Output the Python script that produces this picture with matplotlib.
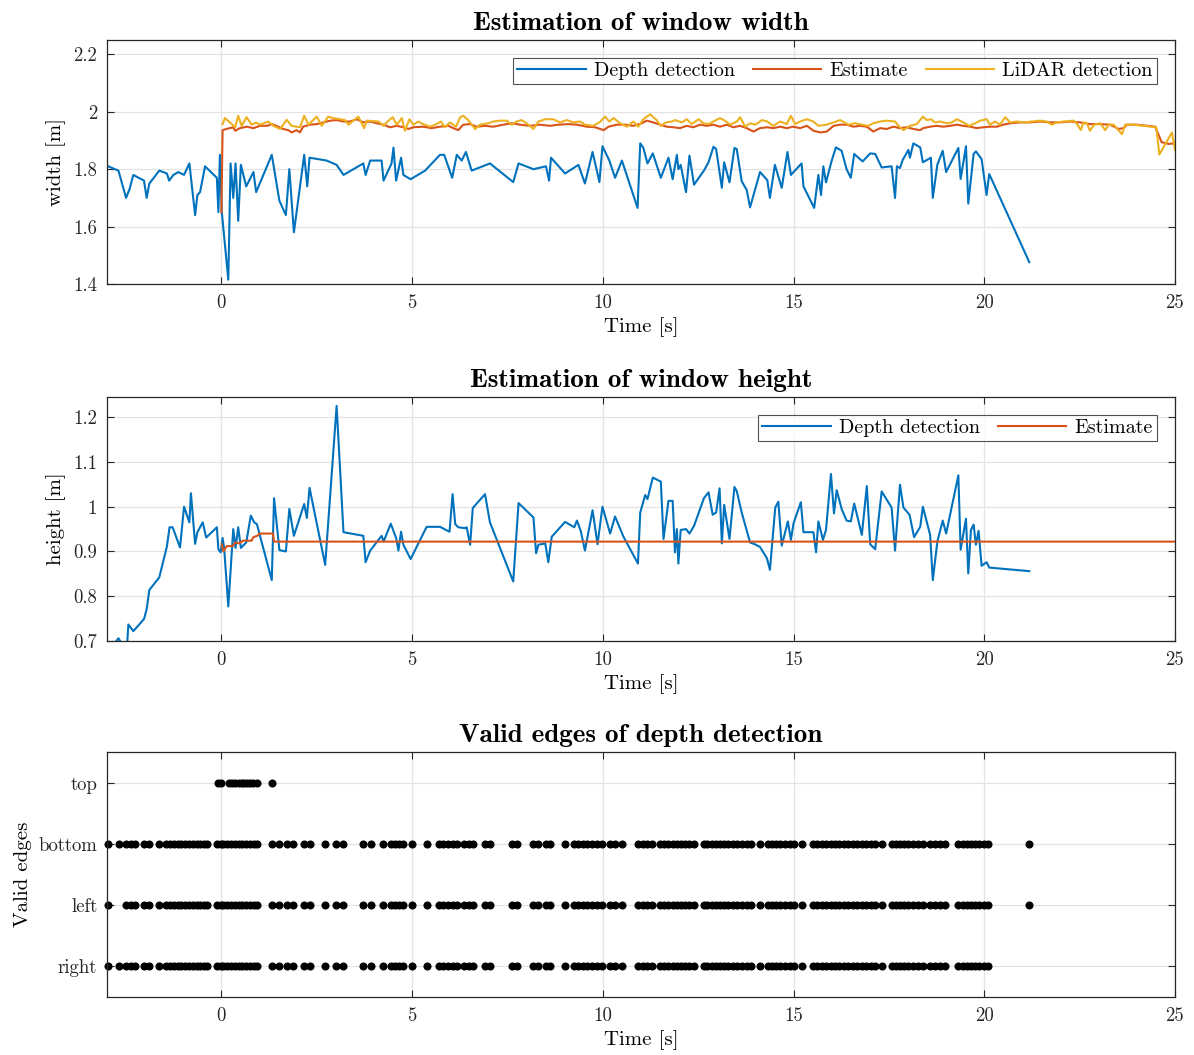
import matplotlib
matplotlib.use("Agg")
import matplotlib.pyplot as plt
import numpy as np

plt.rcParams['font.family'] = 'cmr10'
plt.rcParams['mathtext.fontset'] = 'cm'
plt.rcParams['axes.formatter.use_mathtext'] = True
plt.rcParams['axes.unicode_minus'] = False

BLUE = '#0072BD'
ORANGE = '#D95319'
YELLOW = '#EDB120'

# ---------------- width subplot data ----------------
width_depth_t = [-2.97, -2.70, -2.50, -2.41, -2.31, -2.03, -1.96, -1.89, -1.63, -1.43, -1.37, -1.26,
                 -1.13, -0.98, -0.84, -0.69, -0.63, -0.56, -0.43, -0.12, -0.08, -0.04, 0.01, 0.18,
                 0.24, 0.31, 0.37, 0.44, 0.51, 0.65, 0.84, 0.91, 1.32, 1.52, 1.69, 1.78, 1.90, 2.17,
                 2.25, 2.31, 2.76, 3.02, 3.20, 3.72, 3.78, 3.90, 4.20, 4.25, 4.46, 4.51, 4.58, 4.71,
                 4.77, 4.96, 5.34, 5.73, 5.84, 6.05, 6.17, 6.30, 6.41, 6.56, 7.04, 7.65, 7.79, 8.18,
                 8.51, 8.59, 8.64, 9.01, 9.36, 9.53, 9.73, 9.91, 9.99, 10.17, 10.32, 10.50, 10.91,
                 10.98, 11.06, 11.17, 11.31, 11.52, 11.72, 11.83, 11.94, 11.98, 12.04, 12.18, 12.27,
                 12.39, 12.65, 12.77, 12.90, 12.97, 13.12, 13.18, 13.32, 13.45, 13.51, 13.64, 13.77,
                 13.86, 14.12, 14.31, 14.38, 14.51, 14.69, 14.84, 14.93, 15.21, 15.26, 15.54, 15.65,
                 15.72, 15.78, 15.85, 16.00, 16.11, 16.26, 16.39, 16.50, 16.59, 16.81, 17.01, 17.14,
                 17.31, 17.57, 17.66, 17.71, 17.79, 17.86, 18.01, 18.05, 18.14, 18.32, 18.39, 18.60,
                 18.65, 18.77, 18.91, 19.00, 19.32, 19.38, 19.52, 19.58, 19.72, 19.78, 19.93, 20.06,
                 20.13, 21.18]
width_depth_v = [1.81, 1.795, 1.70, 1.73, 1.78, 1.76, 1.70, 1.75, 1.795, 1.785, 1.76, 1.78,
                 1.79, 1.78, 1.82, 1.64, 1.71, 1.72, 1.81, 1.77, 1.65, 1.85, 1.65, 1.415,
                 1.82, 1.70, 1.82, 1.62, 1.815, 1.74, 1.79, 1.72, 1.85, 1.69, 1.64, 1.80, 1.58, 1.85,
                 1.74, 1.84, 1.83, 1.815, 1.78, 1.82, 1.78, 1.83, 1.83, 1.76, 1.82, 1.875, 1.76, 1.84,
                 1.78, 1.765, 1.795, 1.85, 1.85, 1.77, 1.85, 1.83, 1.86, 1.795, 1.82, 1.755, 1.82, 1.80,
                 1.81, 1.76, 1.84, 1.785, 1.815, 1.75, 1.86, 1.755, 1.88, 1.83, 1.77, 1.83, 1.665,
                 1.89, 1.875, 1.82, 1.855, 1.77, 1.84, 1.765, 1.85, 1.80, 1.815, 1.72, 1.847,
                 1.746, 1.795, 1.824, 1.878, 1.87, 1.735, 1.824, 1.754, 1.874, 1.87, 1.758, 1.728,
                 1.667, 1.79, 1.762, 1.70, 1.815, 1.735, 1.86, 1.78, 1.82, 1.74, 1.665, 1.78,
                 1.71, 1.81, 1.754, 1.83, 1.876, 1.864, 1.80, 1.77, 1.853, 1.827, 1.855, 1.853,
                 1.806, 1.81, 1.70, 1.81, 1.804, 1.832, 1.867, 1.84, 1.89, 1.876, 1.824, 1.84,
                 1.70, 1.816, 1.864, 1.79, 1.874, 1.766, 1.88, 1.68, 1.853, 1.862, 1.835, 1.71,
                 1.783, 1.476]

width_est_t = [0.00, 0.03, 0.13, 0.31, 0.36, 0.49, 0.66, 0.84, 1.01, 1.19, 1.32, 1.49, 1.62, 1.75,
               1.84, 1.97, 2.06, 2.14, 2.32, 2.50, 2.67, 2.85, 3.02, 3.20, 3.37, 3.55, 3.72, 3.90,
               4.07, 4.25, 4.42, 4.60, 4.77, 4.90, 5.03, 5.29, 5.51, 5.73, 5.95, 6.08, 6.21, 6.34,
               6.52, 6.69, 6.91, 7.13, 7.39, 7.61, 7.83, 8.09, 8.35, 8.62, 8.83, 9.10, 9.32, 9.58,
               9.80, 10.02, 10.15, 10.36, 10.58, 10.80, 11.02, 11.15, 11.32, 11.50, 11.67, 11.85,
               12.02, 12.20, 12.37, 12.55, 12.72, 12.90, 13.07, 13.25, 13.42, 13.60, 13.77, 13.95,
               14.12, 14.30, 14.47, 14.65, 14.82, 14.99, 15.17, 15.35, 15.52, 15.70, 15.87, 16.05,
               16.22, 16.39, 16.57, 16.74, 16.92, 17.09, 17.27, 17.44, 17.62, 17.79, 17.97, 18.14,
               18.32, 18.40, 18.58, 18.75, 18.93, 19.10, 19.28, 19.45, 19.63, 19.80, 19.98, 20.15,
               20.33, 20.50, 20.68, 20.94, 21.20, 21.46, 21.73, 21.99, 22.25, 22.51, 22.77, 23.04,
               23.30, 23.52, 23.65, 23.74, 24.00, 24.26, 24.48, 24.65, 24.83, 25.00]
width_est_v = [1.65, 1.936, 1.94, 1.946, 1.934, 1.943, 1.948, 1.943, 1.951, 1.951, 1.957, 1.948,
               1.94, 1.936, 1.928, 1.936, 1.928, 1.948, 1.955, 1.957, 1.963, 1.969, 1.971, 1.966,
               1.966, 1.974, 1.963, 1.966, 1.96, 1.955, 1.946, 1.951, 1.946, 1.94, 1.946, 1.948,
               1.943, 1.948, 1.951, 1.943, 1.936, 1.955, 1.957, 1.948, 1.951, 1.948, 1.955, 1.96,
               1.955, 1.951, 1.955, 1.951, 1.955, 1.957, 1.955, 1.948, 1.946, 1.936, 1.948, 1.955,
               1.955, 1.951, 1.96, 1.969, 1.963, 1.955, 1.948, 1.946, 1.943, 1.951, 1.946, 1.955,
               1.951, 1.955, 1.948, 1.955, 1.946, 1.951, 1.943, 1.931, 1.943, 1.946, 1.943, 1.948,
               1.943, 1.948, 1.943, 1.951, 1.934, 1.928, 1.931, 1.951, 1.955, 1.955, 1.948, 1.951,
               1.948, 1.931, 1.943, 1.94, 1.948, 1.943, 1.946, 1.94, 1.936, 1.943, 1.948, 1.951,
               1.948, 1.951, 1.955, 1.951, 1.948, 1.943, 1.946, 1.948, 1.948, 1.955, 1.96, 1.963,
               1.963, 1.966, 1.963, 1.963, 1.966, 1.963, 1.957, 1.957, 1.955, 1.94, 1.943, 1.955,
               1.955, 1.951, 1.948, 1.894, 1.888, 1.89]

width_lidar_t = [0.03, 0.09, 0.23, 0.36, 0.44, 0.53, 0.66, 0.79, 0.91, 1.01, 1.23, 1.36, 1.54, 1.71,
                 1.84, 2.06, 2.17, 2.28, 2.50, 2.63, 2.80, 2.93, 3.24, 3.33, 3.59, 3.74, 3.81, 4.12,
                 4.25, 4.38, 4.49, 4.60, 4.73, 4.81, 4.93, 5.03, 5.16, 5.29, 5.47, 5.64, 5.75, 5.86,
                 5.99, 6.15, 6.26, 6.34, 6.47, 6.65, 6.78, 7.00, 7.13, 7.30, 7.48, 7.61, 7.74, 7.87,
                 8.00, 8.18, 8.31, 8.49, 8.70, 8.88, 9.05, 9.23, 9.40, 9.53, 9.74, 9.91, 10.06, 10.17,
                 10.28, 10.45, 10.63, 10.80, 10.93, 11.06, 11.24, 11.41, 11.52, 11.66, 11.81, 11.89,
                 12.07, 12.20, 12.33, 12.51, 12.64, 12.77, 12.90, 13.07, 13.20, 13.34, 13.51, 13.60,
                 13.73, 13.86, 14.00, 14.17, 14.31, 14.47, 14.65, 14.82, 14.93, 15.04, 15.17, 15.35,
                 15.52, 15.65, 15.87, 16.05, 16.22, 16.44, 16.61, 16.79, 16.96, 17.09, 17.27, 17.44,
                 17.66, 17.75, 17.88, 18.05, 18.23, 18.39, 18.49, 18.60, 18.71, 18.84, 19.02, 19.15,
                 19.28, 19.45, 19.61, 19.76, 19.89, 20.06, 20.15, 20.28, 20.41, 20.55, 20.68, 20.85,
                 21.07, 21.24, 21.46, 21.64, 21.77, 21.90, 22.08, 22.34, 22.42, 22.53, 22.60, 22.69,
                 22.77, 22.88, 23.04, 23.17, 23.26, 23.39, 23.61, 23.69, 23.91, 24.17, 24.51, 24.59,
                 24.92, 25.00]
width_lidar_v = [1.957, 1.978, 1.962, 1.946, 1.986, 1.951, 1.981, 1.955, 1.962, 1.955, 1.966, 1.951,
                 1.940, 1.972, 1.951, 1.946, 1.986, 1.955, 1.983, 1.951, 1.983, 1.978, 1.971, 1.955,
                 1.983, 1.943, 1.969, 1.966, 1.951, 1.969, 1.981, 1.955, 1.978, 1.934, 1.974, 1.955,
                 1.966, 1.957, 1.948, 1.957, 1.966, 1.946, 1.963, 1.948, 1.981, 1.986, 1.971, 1.94,
                 1.955, 1.96, 1.966, 1.969, 1.969, 1.955, 1.966, 1.971, 1.96, 1.94, 1.966, 1.974,
                 1.974, 1.963, 1.971, 1.963, 1.966, 1.955, 1.951, 1.963, 1.983, 1.966, 1.978, 1.96,
                 1.948, 1.966, 1.948, 1.974, 1.991, 1.971, 1.951, 1.963, 1.966, 1.971, 1.963, 1.974,
                 1.957, 1.974, 1.96, 1.957, 1.966, 1.978, 1.969, 1.955, 1.966, 1.981, 1.948, 1.96,
                 1.955, 1.971, 1.966, 1.951, 1.966, 1.957, 1.986, 1.957, 1.966, 1.974, 1.966, 1.951,
                 1.955, 1.963, 1.971, 1.955, 1.96, 1.955, 1.951, 1.96, 1.966, 1.969, 1.966, 1.951,
                 1.936, 1.951, 1.957, 1.983, 1.971, 1.974, 1.963, 1.966, 1.96, 1.963, 1.974, 1.963,
                 1.951, 1.96, 1.969, 1.974, 1.955, 1.966, 1.955, 1.981, 1.963, 1.966, 1.963, 1.966,
                 1.969, 1.966, 1.955, 1.963, 1.966, 1.969, 1.96, 1.936, 1.963, 1.96, 1.934, 1.955,
                 1.96, 1.936, 1.955, 1.955, 1.922, 1.955, 1.955, 1.951, 1.946, 1.851, 1.928, 1.867]

# ---------------- height subplot data ----------------
height_depth_t = [-2.80, -2.70, -2.62, -2.47, -2.44, -2.31, -2.03, -1.96, -1.89, -1.63, -1.43, -1.36,
                  -1.28, -1.085, -0.98, -0.84, -0.80, -0.69, -0.63, -0.49, -0.40, -0.12, -0.08, -0.02,
                  0.03, 0.07, 0.18, 0.31, 0.37, 0.44, 0.51, 0.65, 0.77, 0.86, 0.93, 1.32, 1.38, 1.52,
                  1.69, 1.78, 1.90, 2.17, 2.24, 2.31, 2.72, 3.02, 3.20, 3.72, 3.78, 3.90, 4.20, 4.25,
                  4.44, 4.58, 4.64, 4.71, 4.77, 4.96, 5.38, 5.73, 5.98, 6.06, 6.13, 6.21, 6.39, 6.43,
                  6.52, 6.59, 6.91, 7.04, 7.65, 7.79, 8.18, 8.25, 8.31, 8.49, 8.57, 8.66, 9.01, 9.25,
                  9.32, 9.42, 9.53, 9.73, 9.86, 9.99, 10.19, 10.32, 10.54, 10.92, 10.98, 11.11, 11.17,
                  11.31, 11.52, 11.59, 11.72, 11.83, 11.89, 11.94, 11.98, 12.04, 12.18, 12.27, 12.39,
                  12.65, 12.77, 12.88, 12.97, 13.06, 13.12, 13.18, 13.32, 13.45, 13.51, 13.64, 13.86,
                  13.99, 14.12, 14.30, 14.38, 14.52, 14.60, 14.69, 14.85, 14.93, 15.00, 15.19, 15.26,
                  15.52, 15.59, 15.65, 15.77, 15.85, 15.98, 16.06, 16.13, 16.26, 16.39, 16.50, 16.59,
                  16.79, 16.92, 17.01, 17.14, 17.31, 17.57, 17.66, 17.79, 17.88, 18.04, 18.16, 18.32,
                  18.39, 18.58, 18.65, 18.77, 18.91, 19.00, 19.32, 19.38, 19.52, 19.58, 19.65, 19.72,
                  19.78, 19.85, 19.93, 20.06, 20.13, 21.18]
height_depth_v = [0.695, 0.706, 0.695, 0.695, 0.737, 0.722, 0.749, 0.771, 0.814, 0.842, 0.911, 0.954,
                  0.954, 0.909, 1.000, 0.965, 1.030, 0.917, 0.943, 0.965, 0.931, 0.954, 0.905, 0.898,
                  0.930, 0.909, 0.777, 0.950, 0.908, 0.954, 0.908, 0.920, 0.980, 0.965, 0.961, 0.836,
                  1.019, 0.903, 0.900, 0.995, 0.935, 1.006, 0.975, 1.042, 0.870, 1.225, 0.943, 0.935,
                  0.876, 0.902, 0.935, 0.922, 0.962, 0.930, 0.902, 0.944, 0.915, 0.883, 0.955, 0.955,
                  0.944, 1.028, 0.961, 0.954, 0.952, 0.954, 0.915, 0.997, 1.028, 0.965, 0.833, 1.008,
                  0.976, 0.896, 0.915, 0.918, 0.876, 0.933, 0.966, 0.954, 0.969, 0.946, 0.902, 0.992,
                  0.916, 1.000, 0.940, 0.978, 0.933, 0.873, 0.987, 1.026, 1.017, 1.065, 1.056, 0.928,
                  1.013, 1.013, 0.898, 0.950, 0.873, 0.948, 0.950, 0.940, 0.957, 1.019, 1.032, 0.982,
                  0.987, 1.041, 0.918, 1.004, 0.928, 1.044, 1.035, 0.987, 0.920, 0.916, 0.910, 0.885,
                  0.859, 0.998, 1.011, 0.913, 0.967, 0.926, 0.963, 1.010, 0.943, 0.943, 0.898, 0.967,
                  0.926, 0.948, 1.073, 0.985, 1.037, 0.995, 0.969, 0.967, 1.007, 0.937, 1.046, 0.916,
                  0.905, 1.034, 0.998, 0.902, 1.049, 0.998, 0.982, 0.932, 0.955, 1.000, 0.937, 0.836,
                  0.922, 0.969, 0.940, 1.070, 0.904, 0.973, 0.851, 0.948, 0.960, 0.915, 0.946, 0.868,
                  0.876, 0.864, 0.856]

height_est_t = [0.01, 0.05, 0.14, 0.30, 0.36, 0.47, 0.56, 0.79, 0.84, 0.94, 1.01, 1.35, 1.38, 25.0]
height_est_v = [0.916, 0.900, 0.912, 0.912, 0.920, 0.918, 0.924, 0.924, 0.932, 0.935, 0.940, 0.940,
                0.922, 0.922]

# ---------------- valid edges data ----------------
edge_labels = ['right', 'left', 'bottom', 'top']
edges_common_t = [-2.97, -2.50, -2.38, -2.27, -2.02, -1.89, -1.63,
                  -1.45, -1.35, -1.25, -1.15, -1.05, -0.95, -0.85, -0.75, -0.65, -0.55, -0.45, -0.37,
                  -0.12, -0.02, 0.05, 0.15, 0.25, 0.35, 0.45, 0.55, 0.65, 0.75, 0.85, 0.92,
                  1.32, 1.52, 1.71, 1.87, 2.17, 2.31, 2.72, 3.00, 3.20, 3.70, 3.91, 4.23, 4.44, 4.55,
                  4.66, 4.77, 4.99, 5.38, 5.71, 5.82, 5.95, 6.08, 6.18, 6.35, 6.50, 6.60, 6.91, 7.04,
                  7.61, 7.74, 8.18, 8.31, 8.51, 8.62, 9.01, 9.25, 9.36, 9.47, 9.58, 9.71, 9.84, 9.97,
                  10.19, 10.32, 10.51, 10.93, 11.05, 11.15, 11.28, 11.50, 11.61, 11.72, 11.83, 11.94,
                  12.04, 12.16, 12.27, 12.39, 12.64, 12.74, 12.86, 12.97, 13.07, 13.18, 13.29, 13.41,
                  13.51, 13.64, 13.77, 13.88, 14.12, 14.32, 14.43, 14.54, 14.65, 14.78, 14.91, 15.02,
                  15.22, 15.52, 15.62, 15.74, 15.85, 15.97, 16.09, 16.20, 16.32, 16.44, 16.55, 16.66,
                  16.79, 16.90, 17.02, 17.14, 17.31, 17.57, 17.69, 17.79, 17.90, 18.01, 18.14, 18.27,
                  18.39, 18.58, 18.71, 18.84, 18.97, 19.32, 19.44, 19.54, 19.65, 19.76, 19.87, 19.98,
                  20.11]
edges_right_extra_t = [-2.68]
edges_bottom_extra_t = [-2.68, 21.18]
edges_left_extra_t = [21.18]
edges_top_t = [-0.08, 0.00, 0.20, 0.28, 0.36, 0.45, 0.53, 0.60, 0.68, 0.76, 0.84, 0.92, 1.32]

x_ticks = [0, 5, 10, 15, 20, 25]

# ---------------- figure ----------------
W, H = 1194, 1055
fig = plt.figure(figsize=(W / 100, H / 100), dpi=100)
left = 107 / W
width = (1175 - 107) / W


def rect(top_px, bot_px):
    return [left, 1 - bot_px / H, width, (bot_px - top_px) / H]


AX_COLOR = '#262626'
GRID_COLOR = '#e3e3e3'
TICK_FS = 13.5
LABEL_FS = 15
LEGEND_FS = 14.5
TITLE_FS = 19.5


def style(ax):
    for s in ax.spines.values():
        s.set_color(AX_COLOR)
        s.set_linewidth(0.9)
    ax.tick_params(direction='in', top=True, right=True, length=5, width=0.8,
                   colors=AX_COLOR, labelsize=TICK_FS, labelcolor='#262626', pad=7)
    ax.grid(True, color=GRID_COLOR, linewidth=0.9)
    ax.set_axisbelow(True)
    ax.set_xlim(-3, 25)
    ax.set_xticks(x_ticks)
    ax.set_xticklabels([str(v) for v in x_ticks])


title_font = dict(fontname='cmb10', fontsize=TITLE_FS, pad=7)

# --- width ---
ax1 = fig.add_axes(rect(40, 284))
style(ax1)
ax1.plot(width_depth_t, width_depth_v, color=BLUE, lw=1.5, label='Depth detection')
ax1.plot(width_est_t, width_est_v, color=ORANGE, lw=1.5, label='Estimate')
ax1.plot(width_lidar_t, width_lidar_v, color=YELLOW, lw=1.5, label='LiDAR detection')
ax1.set_ylim(1.4, 2.25)
ax1.set_yticks([1.4, 1.6, 1.8, 2.0, 2.2])
ax1.set_yticklabels(['1.4', '1.6', '1.8', '2', '2.2'])
ax1.set_xlabel('Time [s]', fontsize=LABEL_FS, labelpad=4)
ax1.set_ylabel('width [m]', fontsize=LABEL_FS, labelpad=5)
ax1.set_title('Estimation of window width', **title_font)
leg = ax1.legend(loc='upper right', ncol=3, fontsize=LEGEND_FS, frameon=True, fancybox=False,
                 edgecolor=AX_COLOR, borderpad=0.2, handlelength=3.4, handletextpad=0.4,
                 columnspacing=0.9, borderaxespad=0.9)
leg.get_frame().set_linewidth(0.8)

# --- height ---
ax2 = fig.add_axes(rect(397, 641))
style(ax2)
ax2.plot(height_depth_t, height_depth_v, color=BLUE, lw=1.5, label='Depth detection')
ax2.plot(height_est_t, height_est_v, color=ORANGE, lw=1.5, label='Estimate')
ax2.set_ylim(0.7, 1.245)
ax2.set_yticks([0.7, 0.8, 0.9, 1.0, 1.1, 1.2])
ax2.set_yticklabels(['0.7', '0.8', '0.9', '1', '1.1', '1.2'])
ax2.set_xlabel('Time [s]', fontsize=LABEL_FS, labelpad=4)
ax2.set_ylabel('height [m]', fontsize=LABEL_FS, labelpad=5)
ax2.set_title('Estimation of window height', **title_font)
leg2 = ax2.legend(loc='upper right', ncol=2, fontsize=LEGEND_FS, frameon=True, fancybox=False,
                  edgecolor=AX_COLOR, borderpad=0.2, handlelength=3.4, handletextpad=0.4,
                  columnspacing=0.9, borderaxespad=0.9)
leg2.get_frame().set_linewidth(0.8)

# --- valid edges ---
ax3 = fig.add_axes(rect(752, 997))
style(ax3)
rows = [
    (1, sorted(edges_common_t + edges_right_extra_t)),
    (2, sorted(edges_common_t + edges_left_extra_t)),
    (3, sorted(edges_common_t + edges_bottom_extra_t)),
    (4, edges_top_t),
]
for level, ts in rows:
    ax3.plot(ts, [level] * len(ts), linestyle='none', marker='o', color='black',
             markersize=4.8, clip_on=False)
ax3.set_ylim(0.5, 4.5)
ax3.set_yticks([1, 2, 3, 4])
ax3.set_yticklabels(edge_labels)
ax3.set_xlabel('Time [s]', fontsize=LABEL_FS, labelpad=4)
ax3.set_ylabel('Valid edges', fontsize=LABEL_FS, labelpad=5)
ax3.set_title('Valid edges of depth detection', **title_font)

fig.savefig('out.png', dpi=100)
